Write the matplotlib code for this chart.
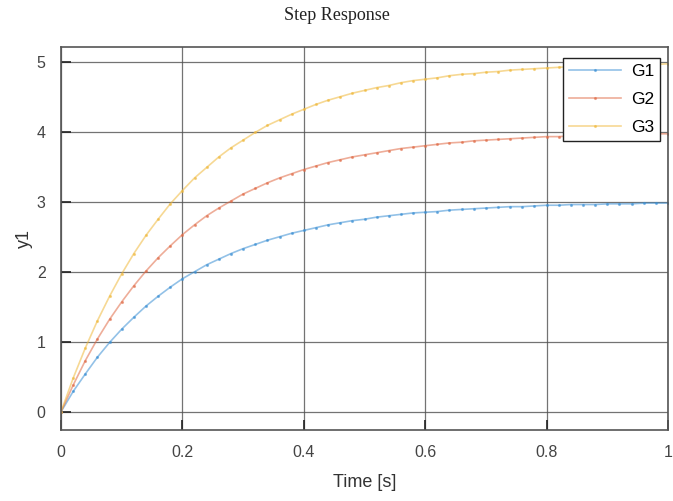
import numpy as np
import matplotlib.pyplot as plt

# time samples (s)
t = np.arange(51) * 0.02

# step responses
g1 = [0, 0.29, 0.54, 0.78, 0.99, 1.18, 1.35, 1.51, 1.65, 1.78, 1.90, 2.00, 2.10,
      2.18, 2.26, 2.33, 2.39, 2.45, 2.50, 2.55, 2.59, 2.63, 2.67, 2.70, 2.73, 2.75,
      2.78, 2.80, 2.82, 2.84, 2.85, 2.86, 2.88, 2.89, 2.90, 2.91, 2.92, 2.93, 2.93,
      2.94, 2.95, 2.95, 2.96, 2.96, 2.96, 2.97, 2.97, 2.97, 2.98, 2.98, 2.98]
g2 = [0, 0.38, 0.73, 1.04, 1.32, 1.57, 1.80, 2.01, 2.20, 2.37, 2.53, 2.67, 2.80,
      2.91, 3.01, 3.11, 3.19, 3.27, 3.34, 3.40, 3.46, 3.51, 3.56, 3.60, 3.64, 3.67,
      3.70, 3.73, 3.76, 3.78, 3.80, 3.82, 3.84, 3.85, 3.87, 3.88, 3.89, 3.90, 3.91,
      3.92, 3.93, 3.93, 3.94, 3.95, 3.95, 3.96, 3.96, 3.96, 3.97, 3.97, 3.97]
g3 = [0, 0.48, 0.91, 1.30, 1.65, 1.97, 2.26, 2.52, 2.75, 2.97, 3.16, 3.34, 3.49,
      3.64, 3.77, 3.88, 3.99, 4.09, 4.17, 4.25, 4.32, 4.39, 4.45, 4.50, 4.55, 4.59,
      4.63, 4.66, 4.70, 4.73, 4.75, 4.77, 4.80, 4.82, 4.83, 4.85, 4.86, 4.88, 4.89,
      4.90, 4.91, 4.92, 4.93, 4.93, 4.94, 4.95, 4.95, 4.96, 4.96, 4.96, 4.97]

names = ['G1', 'G2', 'G3']
colors = ['#3a8fd4', '#e06a45', '#f0b93c']

plt.rcParams['font.family'] = ['Liberation Sans', 'DejaVu Sans']

fig = plt.figure(figsize=(6.73, 5.01), dpi=100)
ax = fig.add_axes([61 / 673, 1 - 430 / 501, 607 / 673, 383 / 501])

for y, name, c in zip([g1, g2, g3], names, colors):
    ax.plot(t, y, color=c, lw=1.2, alpha=0.55, label=name,
            marker='.', markersize=2.5, markerfacecolor=c, markeredgecolor=c)

ax.set_xlim(0, 1)
ax.set_ylim(-0.26, 5.21)
ax.set_xticks([0, 0.2, 0.4, 0.6, 0.8, 1])
ax.set_xticklabels(['0', '0.2', '0.4', '0.6', '0.8', '1'])
ax.set_yticks([0, 1, 2, 3, 4, 5])
ax.grid(True, color='#505050', lw=0.9, alpha=0.8)
ax.tick_params(direction='in', length=7, width=1.2, colors='#222222',
               labelcolor='#444444', labelsize=11.5, pad=11)
for s in ax.spines.values():
    s.set_color('#555555')
    s.set_linewidth(1.2)

ax.set_xlabel('Time [s]', fontsize=13, color='#333333', labelpad=10)
ax.set_ylabel('y1', fontsize=13, color='#333333', labelpad=3)
fig.text(0.5, 1 - 15 / 501, 'Step Response', ha='center', va='center',
         fontsize=13, family='Liberation Serif', color='#222222')

leg = ax.legend(loc='upper left', bbox_to_anchor=(0.827, 0.972), fontsize=12.5,
                frameon=True, fancybox=False, framealpha=1, edgecolor='#222222',
                handlelength=3.0, labelspacing=0.75, borderpad=0.35,
                handletextpad=0.55, borderaxespad=0)
leg.get_frame().set_linewidth(1.0)

fig.savefig('out.png', dpi=100)
